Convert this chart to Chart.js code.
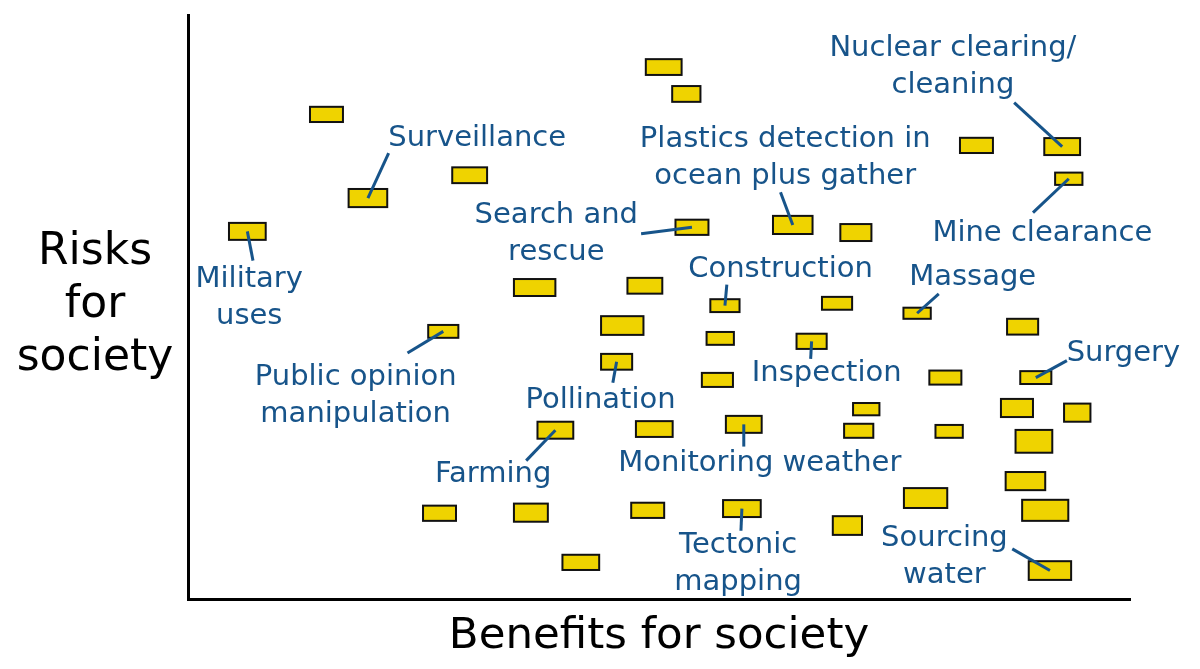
<!DOCTYPE html>
<html lang="en">
<head>
  <meta charset="UTF-8" />
  <title>Benefits vs risks for society</title>
  <script src="https://cdn.jsdelivr.net/npm/chart.js"></script>
  <style>
    body {
      margin: 0;
      background: #fff;
    }
    .wrap {
      width: 1200px;
      height: 669px;
    }
  </style>
</head>
<body>
  <div class="wrap">
    <canvas id="riskChart"></canvas>
  </div>

  <script>
    // one entry per application (box), benefit on x, risk on y (0-100 scale)
    const benefit = [14.7, 19.1, 29.9, 6.3, 50.5, 52.9, 83.7, 92.8, 93.5, 53.5,
                     64.2, 70.9, 36.8, 48.5, 57.0, 68.9, 77.4, 88.6, 27.1, 46.1,
                     56.5, 66.2, 45.5, 56.2, 80.4, 90.0, 88.0, 94.4, 72.0, 39.0,
                     49.5, 59.0, 71.2, 80.8, 89.8, 88.9, 78.3, 91.0, 70.0, 26.7,
                     36.4, 48.8, 58.8, 41.7, 91.5];
    const risk = [83.0, 68.7, 72.6, 63.0, 91.1, 86.5, 77.7, 77.5, 72.0, 63.7,
                  64.1, 62.8, 53.4, 53.7, 50.3, 50.7, 49.0, 46.7, 45.9, 46.9,
                  44.7, 44.2, 40.7, 37.6, 38.0, 38.0, 32.8, 32.0, 32.6, 29.0,
                  29.2, 30.0, 28.9, 28.8, 27.1, 20.3, 17.4, 15.3, 12.7, 14.8,
                  14.9, 15.3, 15.6, 6.4, 5.0];
    // uncertainty range of each estimate (box extent)
    const benefitSpan = [3.5, 4.1, 3.7, 3.9, 3.8, 3.0, 3.5, 3.8, 2.9, 3.5,
                         4.2, 3.3, 4.4, 3.7, 3.1, 3.2, 2.9, 3.3, 3.2, 4.5,
                         2.9, 3.2, 3.3, 3.3, 3.4, 3.3, 3.4, 2.8, 2.8, 3.8,
                         3.9, 3.8, 3.1, 2.9, 3.9, 4.2, 4.6, 4.9, 3.1, 3.5,
                         3.6, 3.5, 4.0, 3.9, 4.5];
    const riskSpan = [2.6, 3.1, 2.7, 2.9, 2.7, 2.7, 2.6, 2.9, 2.1, 2.6,
                      3.1, 2.9, 2.9, 2.7, 2.2, 2.2, 1.9, 2.7, 2.2, 3.2,
                      2.2, 2.6, 2.7, 2.4, 2.4, 2.2, 3.1, 3.1, 2.1, 2.9,
                      2.7, 2.9, 2.4, 2.2, 3.9, 3.1, 3.4, 3.6, 3.2, 2.6,
                      3.1, 2.6, 2.9, 2.6, 3.2];

    // named applications: text, text anchor, start of pointer line, box it points to
    const labelText = ["Surveillance", "Nuclear clearing/\ncleaning", "Mine clearance",
                       "Plastics detection in\nocean plus gather", "Military\nuses",
                       "Public opinion\nmanipulation", "Search and\nrescue", "Construction",
                       "Massage", "Inspection", "Pollination", "Surgery", "Farming",
                       "Monitoring weather", "Tectonic\nmapping", "Sourcing\nwater"];
    const labelX = [30.7, 81.2, 90.7, 63.4, 6.5, 17.8, 39.1, 62.9,
                    83.3, 67.8, 43.8, 99.3, 32.4, 60.7, 58.4, 80.3];
    const labelY = [79.3, 94.7, 62.9, 79.0, 55.2, 38.3, 66.0, 56.8,
                    55.4, 39.0, 34.5, 42.4, 21.7, 23.6, 9.7, 10.8];
    const leadX = [21.3, 87.7, 89.7, 62.9, 6.9, 23.3, 48.1, 57.2,
                   79.7, 66.1, 45.1, 93.3, 35.9, 59.0, 58.7, 87.5];
    const leadY = [76.4, 85.0, 66.2, 69.7, 58.0, 42.2, 62.6, 53.9,
                   52.3, 41.2, 37.1, 40.9, 23.8, 26.2, 11.8, 8.7];
    const leadBox = [1, 7, 8, 10, 3, 18, 9, 14, 16, 21, 22, 25, 29, 31, 42, 44];

    const yTitle = ["Risks", "for", "society"];

    const blue = "#17548a";
    const font = "DejaVu Sans";

    const annotate = {
      id: "annotate",
      afterDatasetsDraw(chart) {
        const ctx = chart.ctx;
        const x = chart.scales.x, y = chart.scales.y;
        const pts = chart.getDatasetMeta(0).data;

        ctx.save();
        ctx.fillStyle = "#efd300";
        ctx.strokeStyle = "#111";
        ctx.lineWidth = 2;
        pts.forEach((p, i) => {
          const w = x.getPixelForValue(benefit[i] + benefitSpan[i] / 2) - x.getPixelForValue(benefit[i] - benefitSpan[i] / 2);
          const h = y.getPixelForValue(risk[i] - riskSpan[i] / 2) - y.getPixelForValue(risk[i] + riskSpan[i] / 2);
          ctx.fillRect(p.x - w / 2, p.y - h / 2, w, h);
          ctx.strokeRect(p.x - w / 2, p.y - h / 2, w, h);
        });

        // pointer lines
        ctx.strokeStyle = blue;
        ctx.lineWidth = 3;
        leadBox.forEach((b, i) => {
          ctx.beginPath();
          ctx.moveTo(x.getPixelForValue(leadX[i]), y.getPixelForValue(leadY[i]));
          ctx.lineTo(pts[b].x, pts[b].y);
          ctx.stroke();
        });

        // labels
        ctx.fillStyle = blue;
        ctx.font = "29px '" + font + "'";
        ctx.textAlign = "center";
        ctx.textBaseline = "middle";
        labelText.forEach((t, i) => {
          const px = x.getPixelForValue(labelX[i]);
          const py = y.getPixelForValue(labelY[i]) + 2;
          t.split("\n").forEach((line, k) => ctx.fillText(line, px, py + k * 37));
        });
        ctx.restore();
      },
      afterDraw(chart) {
        const ctx = chart.ctx;
        const area = chart.chartArea;
        const mid = (area.top + area.bottom) / 2;
        ctx.save();
        ctx.fillStyle = "#000";
        ctx.font = "44px '" + font + "'";
        ctx.textAlign = "center";
        ctx.textBaseline = "alphabetic";
        yTitle.forEach((line, k) => ctx.fillText(line, area.left / 2 + 1, mid - 43 + k * 53));
        ctx.restore();
      }
    };

    new Chart(document.getElementById("riskChart"), {
      type: "scatter",
      data: {
        datasets: [{
          data: benefit.map((b, i) => ({ x: b, y: risk[i] })),
          pointRadius: 0,
          pointHoverRadius: 0
        }]
      },
      options: {
        responsive: true,
        maintainAspectRatio: false,
        animation: false,
        events: [],
        layout: { padding: { left: 188, right: 70, top: 15, bottom: 6 } },
        scales: {
          x: {
            min: 0,
            max: 100,
            grid: { display: false, drawTicks: false },
            ticks: { display: false },
            border: { display: true, color: "#000", width: 3 },
            title: {
              display: true,
              text: "Benefits for society",
              color: "#000",
              font: { family: font, size: 43.5 },
              padding: { top: 11, bottom: 0 }
            }
          },
          y: {
            min: 0,
            max: 100,
            grid: { display: false, drawTicks: false },
            ticks: { display: false },
            border: { display: true, color: "#000", width: 3 }
          }
        },
        plugins: {
          legend: { display: false },
          tooltip: { enabled: false }
        }
      },
      plugins: [annotate]
    });
  </script>
</body>
</html>
